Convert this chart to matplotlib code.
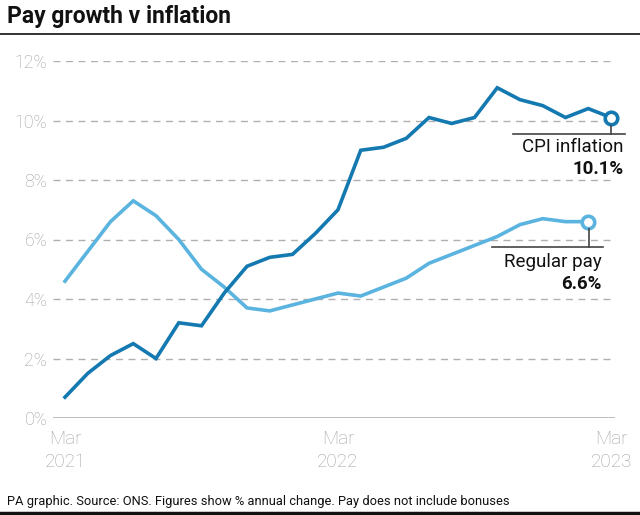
import matplotlib
matplotlib.use("Agg")
import matplotlib.pyplot as plt
from matplotlib.lines import Line2D

# Data
months = ["Mar 2021", "Apr 2021", "May 2021", "Jun 2021", "Jul 2021", "Aug 2021",
          "Sep 2021", "Oct 2021", "Nov 2021", "Dec 2021", "Jan 2022", "Feb 2022",
          "Mar 2022", "Apr 2022", "May 2022", "Jun 2022", "Jul 2022", "Aug 2022",
          "Sep 2022", "Oct 2022", "Nov 2022", "Dec 2022", "Jan 2023", "Feb 2023",
          "Mar 2023"]
cpi = [0.7, 1.5, 2.1, 2.5, 2.0, 3.2, 3.1, 4.2, 5.1, 5.4, 5.5, 6.2, 7.0,
       9.0, 9.1, 9.4, 10.1, 9.9, 10.1, 11.1, 10.7, 10.5, 10.1, 10.4, 10.1]
regular_pay = [4.6, 5.6, 6.6, 7.3, 6.8, 6.0, 5.0, 4.4, 3.7, 3.6, 3.8, 4.0,
               4.2, 4.1, 4.4, 4.7, 5.2, 5.5, 5.8, 6.1, 6.5, 6.7, 6.6, 6.6]
yticks = [0, 2, 4, 6, 8, 10, 12]
ytick_labels = ["0%", "2%", "4%", "6%", "8%", "10%", "12%"]
xtick_idx = [0, 12, 24]
xtick_labels = ["Mar\n2021", "Mar\n2022", "Mar\n2023"]

CPI_COL = "#1479b0"
PAY_COL = "#5ab4df"
GREY = "#a0a0a0"

W, H = 640, 515
fig = plt.figure(figsize=(W / 100, H / 100), dpi=100)
fam = ["Roboto", "DejaVu Sans"]

L, R, B, T = 53, 615, 418, 61
ax = fig.add_axes([L / W, 1 - B / H, (R - L) / W, (B - T) / H])
x_cpi = list(range(len(cpi)))
x_pay = list(range(len(regular_pay)))
ax.set_xlim(-12 / 22.75, 24 + 4 / 22.75)
ax.set_ylim(0, 12)

for t in yticks[1:]:
    ax.axhline(t, color="#b0b0b0", lw=1.0, ls=(0, (5, 4)), zorder=1)
ax.axhline(0, color="#b8b8b8", lw=1.3, zorder=1)

ax.plot(x_pay, regular_pay, color=PAY_COL, lw=2.6, solid_joinstyle="miter", zorder=3, clip_on=False)
ax.plot(x_cpi, cpi, color=CPI_COL, lw=2.6, solid_joinstyle="miter", zorder=4, clip_on=False)
ax.plot(x_cpi[-1], cpi[-1], "o", ms=9, mfc="white", mec=CPI_COL, mew=2.6, zorder=6, clip_on=False)
ax.plot(x_pay[-1], regular_pay[-1], "o", ms=9, mfc="white", mec=PAY_COL, mew=2.6, zorder=6, clip_on=False)

for s in ax.spines.values():
    s.set_visible(False)
ax.set_yticks(yticks)
ax.set_yticklabels(ytick_labels)
ax.set_xticks(xtick_idx)
ax.set_xticklabels(xtick_labels)
ax.tick_params(length=0, colors=GREY)
ax.tick_params(axis="y", pad=4, labelsize=12.8)
ax.tick_params(axis="x", pad=9, labelsize=13.5)
for lab in ax.get_xticklabels() + ax.get_yticklabels():
    lab.set_family(fam)
    lab.set_fontweight("light")
for lab in ax.get_xticklabels():
    lab.set_linespacing(1.3)

# Annotation helpers (in pixel coords -> figure fraction)
def fx(px):
    return px / W

def fy(py):
    return 1 - py / H

# CPI annotation
fig.add_artist(Line2D([fx(513), fx(625)], [fy(134), fy(134)], color="#444444", lw=1.2))
fig.add_artist(Line2D([fx(611), fx(611)], [fy(126), fy(134)], color="#444444", lw=1.2))
fig.text(fx(624), fy(147), "CPI inflation", ha="right", va="center", fontsize=13.5,
         family=fam, color="#111111")
fig.text(fx(624), fy(169), "10.1%", ha="right", va="center", fontsize=13.5,
         family=fam, fontweight="bold", color="#111111")

# Regular pay annotation
fig.add_artist(Line2D([fx(492), fx(603)], [fy(247), fy(247)], color="#444444", lw=1.2))
fig.add_artist(Line2D([fx(589), fx(589)], [fy(229), fy(247)], color="#444444", lw=1.2))
fig.text(fx(602), fy(262), "Regular pay", ha="right", va="center", fontsize=13.5,
         family=fam, color="#111111")
fig.text(fx(602), fy(284), "6.6%", ha="right", va="center", fontsize=13.5,
         family=fam, fontweight="bold", color="#111111")

# Title and rules
fig.text(fx(7), fy(16), "Pay growth v inflation", ha="left", va="center", fontsize=16.5,
         family=fam, fontweight="bold", color="#111111")
fig.add_artist(Line2D([0, 1], [fy(33.5), fy(33.5)], color="#222222", lw=1.3))
fig.text(fx(7), fy(501), "PA graphic. Source: ONS. Figures show % annual change. Pay does not include bonuses",
         ha="left", va="center", fontsize=9.3, family=fam, color="#111111")
fig.add_artist(Line2D([0, 1], [fy(513), fy(513)], color="#111111", lw=2.5))

fig.savefig("out.png", dpi=100, facecolor="white")
